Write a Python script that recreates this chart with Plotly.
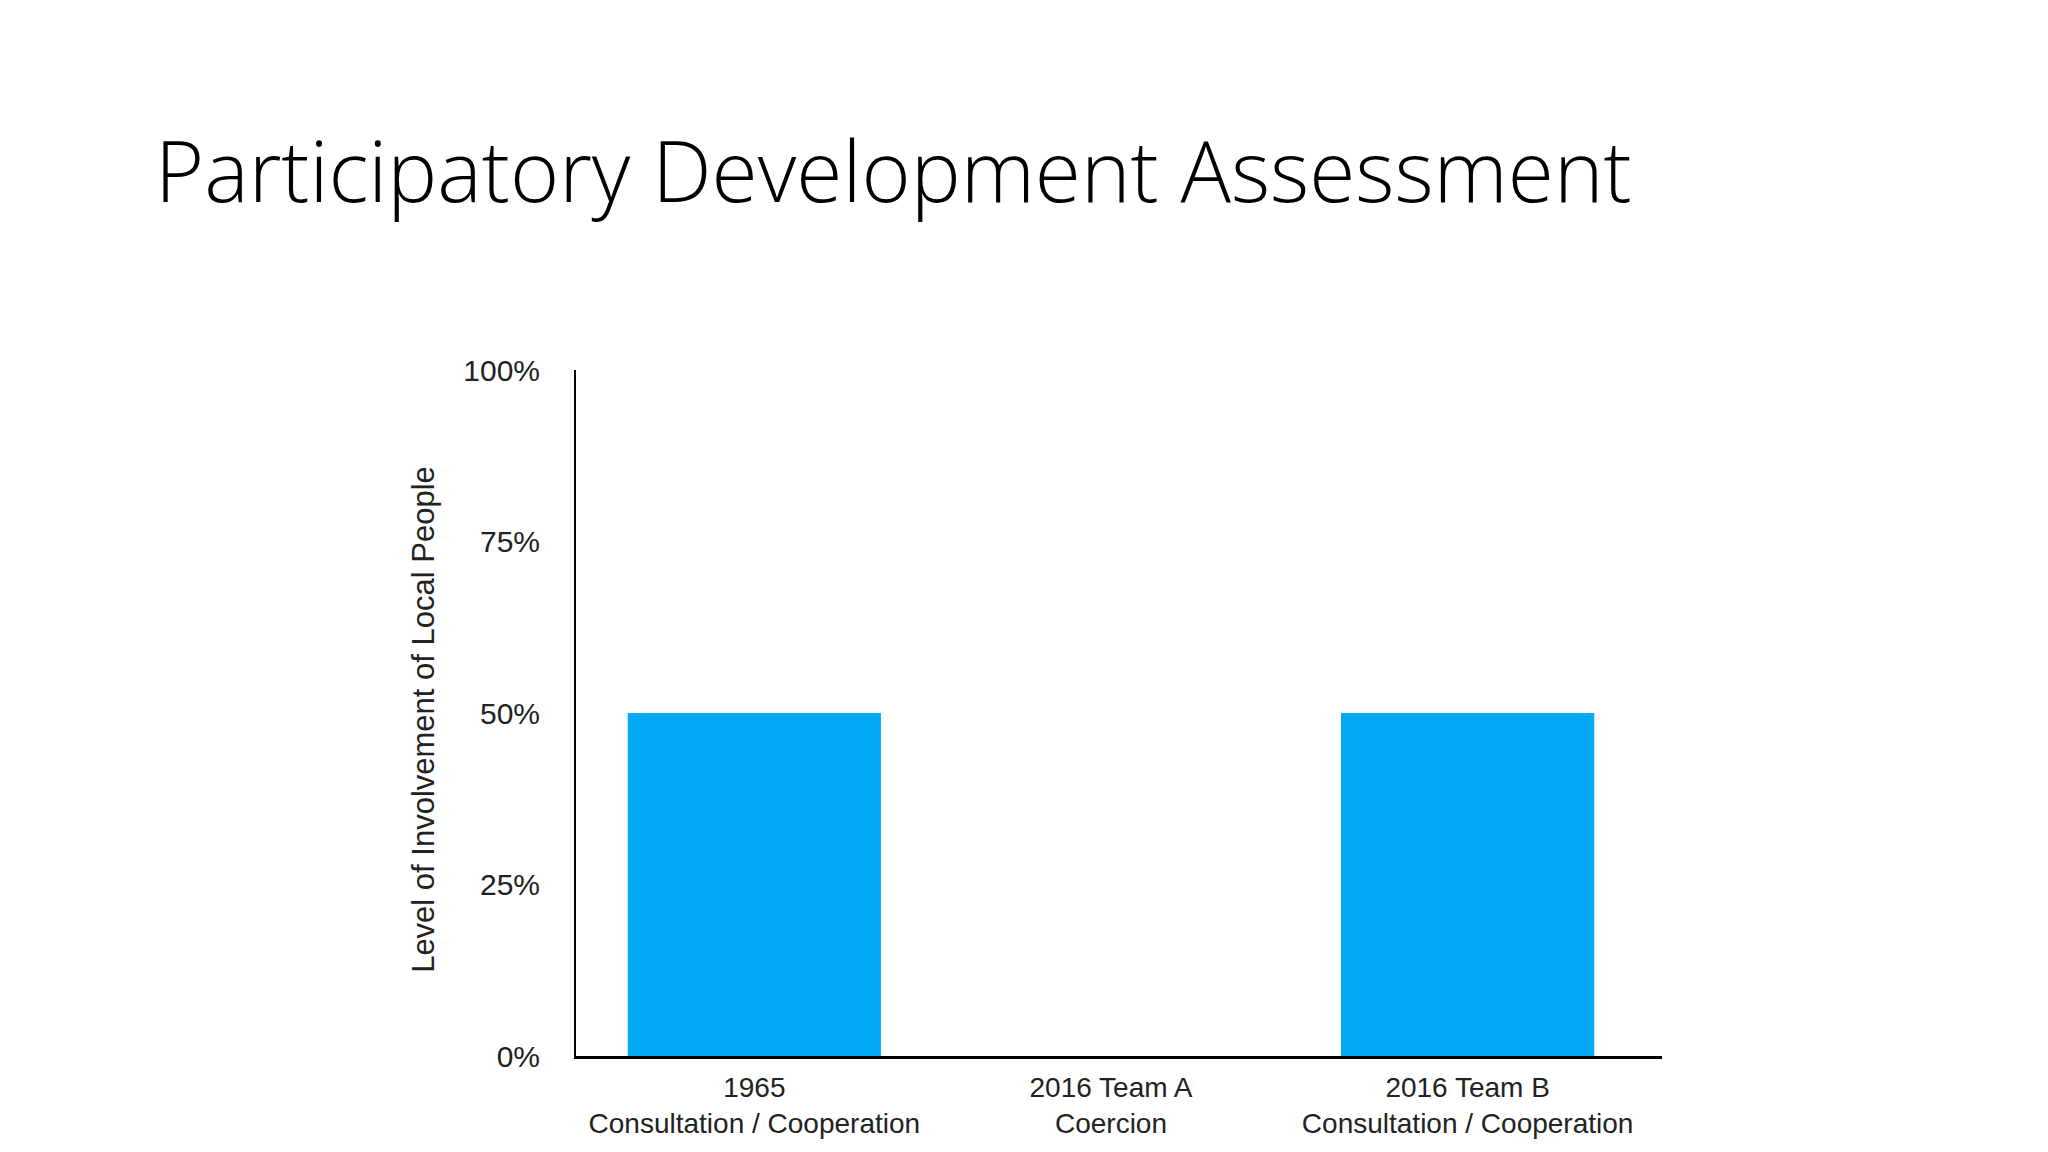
import plotly.graph_objects as go

# ---- data ----
categories = ["1965<br>Consultation / Cooperation",
              "2016 Team A<br>Coercion",
              "2016 Team B<br>Consultation / Cooperation"]
values = [0.50, 0.0, 0.50]
y_ticks = [0, 0.25, 0.5, 0.75, 1.0]
y_tick_labels = ["0%", "25%", "50%", "75%", "100%"]
title_text = "Participatory Development Assessment"
y_title = "Level of Involvement of Local People"

# ---- layout geometry (figure pixels) ----
W, H = 2032, 1136
L, T = 568, 362
PW, PH = 1086, 686
R = W - L - PW
B = H - T - PH

fig = go.Figure(
    go.Bar(
        x=[0, 1, 2],
        y=values,
        marker=dict(color="#03A9F4", line=dict(width=0)),
        width=0.71,
    )
)

xfont = dict(family="Liberation Sans, Arial, sans-serif", size=28, color="#222222")
yfont = dict(family="Liberation Sans, Arial, sans-serif", size=30, color="#222222")

fig.update_layout(
    width=W,
    height=H,
    margin=dict(l=L, r=R, t=T, b=B, pad=0, autoexpand=False),
    paper_bgcolor="white",
    plot_bgcolor="white",
    showlegend=False,
    title=dict(
        text=title_text,
        font=dict(family="Open Sans, Noto Sans, sans-serif", size=84, color="#000000", weight=300),
        xref="container", yref="container",
        x=147 / W, y=1 - 165 / H,
        xanchor="left", yanchor="middle",
        automargin=False,
    ),
    xaxis=dict(
        range=[-0.5, 2.545],
        tickvals=[0, 1, 2],
        ticktext=categories,
        tickfont=xfont,
        showline=True, linecolor="#000000", linewidth=3,
        showgrid=False, zeroline=False, ticks="",
        ticklabelstandoff=4,
        automargin=False,
        fixedrange=True,
    ),
    yaxis=dict(
        range=[0, 1],
        tickvals=y_ticks,
        ticktext=y_tick_labels,
        tickfont=yfont,
        showline=True, linecolor="#000000", linewidth=2,
        showgrid=False, zeroline=False, ticks="",
        ticklabelstandoff=28,
        automargin=False,
        fixedrange=True,
    ),
    annotations=[
        dict(
            text=y_title,
            xref="paper", yref="paper",
            x=(424 - 8 - L) / PW, y=0.49,
            xanchor="center", yanchor="middle",
            textangle=-90, showarrow=False,
            font=dict(family="Liberation Sans, Arial, sans-serif", size=31, color="#222222"),
        )
    ],
)

fig.write_html("out.html")
